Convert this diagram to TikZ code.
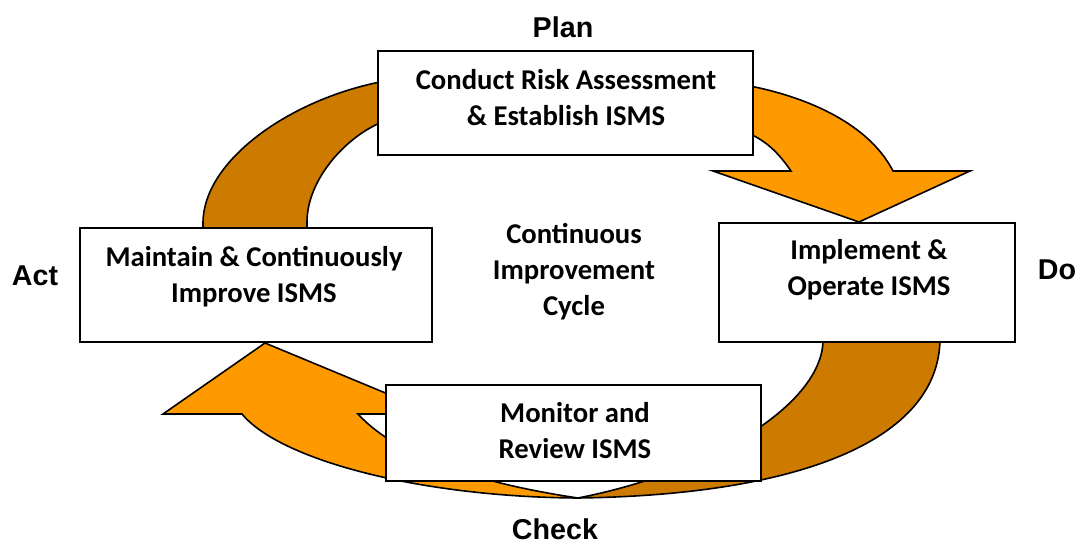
\documentclass[tikz,border=0pt]{standalone}
\usepackage{fontspec}
\setmainfont{Carlito}
\newfontfamily\arialfont{Liberation Sans}
\definecolor{orangec}{HTML}{FF9900}
\definecolor{darkc}{HTML}{CC7A00}
\begin{document}
\begin{tikzpicture}[x=0.75pt,y=-0.75pt,
  box/.style={draw=black,line width=1.3pt,fill=white,inner sep=0pt},
  txt/.style={font=\bfseries\fontsize{21.5}{27}\selectfont,align=center,inner sep=0pt},
  lbl/.style={font=\arialfont\bfseries\fontsize{21.5}{26}\selectfont,inner sep=0pt},
  arr/.style={draw=black,line width=1.2pt,line join=miter}]
\useasboundingbox (0,0) rectangle (1078,545);
% arrows
\path[arr,fill=darkc] (203,232) -- (203,222) .. controls (204,160) and (290,100) .. (380,82)
  -- (380,123) .. controls (345,138) and (307,180) .. (307,222) -- (307,232) -- cycle;
\path[arr,fill=orangec] (750,86) .. controls (820,100) and (872,130) .. (893,171)
  -- (970,171) -- (859,222) -- (713,171) -- (791,171)
  .. controls (780,155) and (768,142) .. (750,134) -- cycle;
\path[arr,fill=darkc] (940,338) .. controls (940,440) and (800,495) .. (578,498)
  .. controls (720,470) and (825,400) .. (823,338) -- cycle;
\path[arr,fill=orangec] (578,498) .. controls (420,497) and (280,460) .. (242,414)
  -- (163,414) -- (265,343) -- (436,414) -- (358,414)
  .. controls (400,460) and (490,485) .. (578,498) -- cycle;
% boxes
\node[box,minimum width=375*0.75pt,minimum height=104*0.75pt] (plan) at (565.5,103) {};
\node[box,minimum width=352*0.75pt,minimum height=114*0.75pt] (act) at (256,285) {};
\node[box,minimum width=296*0.75pt,minimum height=119*0.75pt] (do) at (867,282.5) {};
\node[box,minimum width=375*0.75pt,minimum height=96*0.75pt] (check) at (573.5,433) {};
% box texts
\node[txt] (plant) at (566,98) {Conduct Risk Assessment\\\& Establish ISMS};
\node[txt] (actt) at (254,277) {Maintain \& Continuously\\Improve ISMS};
\node[txt] (dot) at (869,270) {Implement \&\\Operate ISMS};
\node[txt] (checkt) at (575,431) {Monitor and\\Review ISMS};
\node[txt] (cycle) at (574,272) {Continuous\\Improvement\\Cycle};
% labels
\node[lbl] (planl) at (563,27) {Plan};
\node[lbl] (dol) at (1057,270) {Do};
\node[lbl] (actl) at (35,276) {Act};
\node[lbl] (checkl) at (555,529) {Check};
\end{tikzpicture}
\end{document}
